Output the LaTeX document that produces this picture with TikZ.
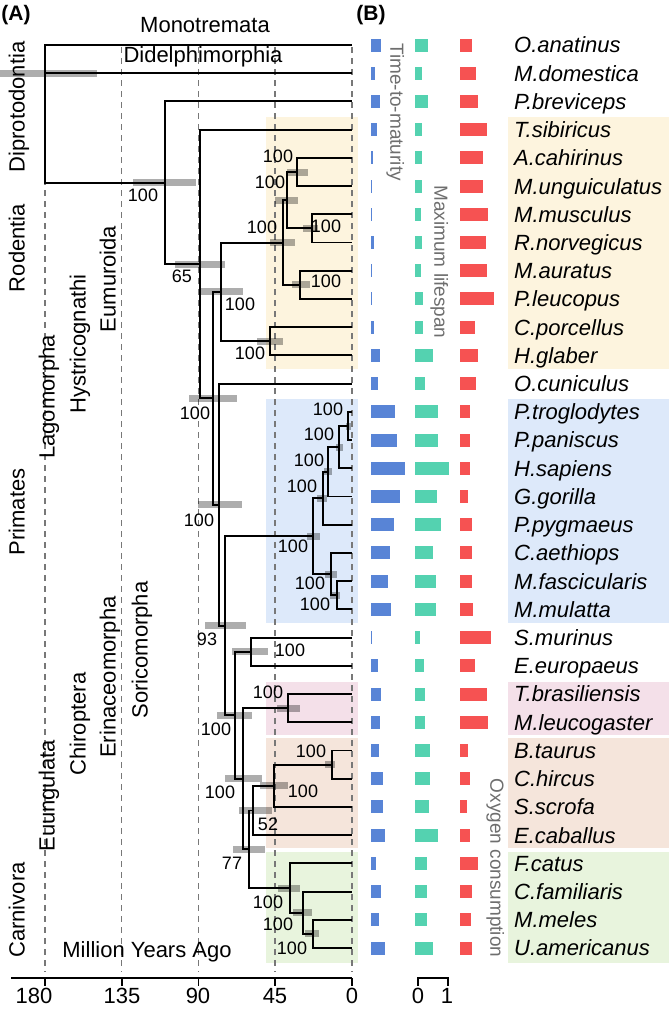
\documentclass[tikz,border=0pt]{standalone}
\usepackage{fontspec}
\setmainfont{Liberation Sans}
\definecolor{rodbg}{RGB}{253,244,222}
\definecolor{pribg}{RGB}{221,233,250}
\definecolor{batbg}{RGB}{244,224,233}
\definecolor{ungbg}{RGB}{245,229,219}
\definecolor{carbg}{RGB}{232,244,221}
\definecolor{cblue}{RGB}{88,132,214}
\definecolor{cteal}{RGB}{84,210,176}
\definecolor{cred}{RGB}{246,82,82}
\definecolor{gridc}{RGB}{120,120,120}
\definecolor{axtxt}{RGB}{110,110,110}
\begin{document}
\begin{tikzpicture}[x=1pt,y=-1pt,
  branch/.style={line width=1.9pt},
  gline/.style={gridc, line width=1.5pt, dash pattern=on 6pt off 5pt},
  ci/.style={fill=black, fill opacity=0.32},
  bs/.style={font=\fontsize{18}{20}\selectfont, inner sep=0pt, text height=0.72em, text depth=0pt},
  taxon/.style={font=\fontsize{22}{26}\selectfont\itshape, inner sep=0pt, anchor=base west},
  grp/.style={font=\fontsize{22}{26}\selectfont, inner sep=0pt, rotate=90, text height=0.72em, text depth=0.2em},
  lbl/.style={font=\fontsize{22}{26}\selectfont, inner sep=0pt, text height=0.72em, text depth=0.2em},
  trait/.style={font=\fontsize{19}{22}\selectfont, text=axtxt, inner sep=0pt, rotate=-90, text height=0.72em, text depth=0.2em},
  ttl/.style={font=\fontsize{21}{24}\selectfont\bfseries, inner sep=0pt},
]
\useasboundingbox (0,0) rectangle (669,1009);
\fill[white] (0,0) rectangle (669,1009);

% clade backgrounds
\fill[rodbg] (266,116.5) rectangle (358,369);
\fill[rodbg] (508,116.5) rectangle (669,369);
\fill[pribg] (266,399) rectangle (358,622.5);
\fill[pribg] (508,399) rectangle (669,622.5);
\fill[batbg] (266,681.5) rectangle (358,735);
\fill[batbg] (508,681.5) rectangle (669,735);
\fill[ungbg] (266,738) rectangle (358,847.5);
\fill[ungbg] (508,738) rectangle (669,847.5);
\fill[carbg] (266,851.5) rectangle (358,963);
\fill[carbg] (508,851.5) rectangle (669,963);

% dashed time lines
\foreach \x in {45,121.7,198.5,275.2,352}
  \draw[gline] (\x,47) -- (\x,972);

% tips
\foreach \i in {0,...,32}
  \coordinate (t\i) at (352,45+28.22*\i);

% internal nodes
\coordinate (root) at (45,73.2);
\coordinate (n1) at (165,182.7);
\coordinate (n65) at (200,264);
\coordinate (n2) at (213,398.3);
\coordinate (n3) at (221,291.9);
\coordinate (n5) at (283,242.55);
\coordinate (n7) at (287,200.2);
\coordinate (n9) at (297,172);
\coordinate (n10) at (312,228.4);
\coordinate (n8) at (300,284.9);
\coordinate (n6) at (270,341.3);
\coordinate (n4) at (219,504.65);
\coordinate (n93) at (225,625.7);
\coordinate (np) at (313,536.2);
\coordinate (nh1) at (323,498.25);
\coordinate (nh2) at (328,471.8);
\coordinate (nh3) at (339,447.15);
\coordinate (npan) at (348,426);
\coordinate (no) at (331,574.15);
\coordinate (nmac) at (337,595.3);
\coordinate (nl) at (235,715.2);
\coordinate (ne) at (251,651.7);
\coordinate (nb0) at (243,778.75);
\coordinate (nbat) at (288,708.2);
\coordinate (n77) at (249,849.3);
\coordinate (n52) at (253,810.5);
\coordinate (nbov) at (274,785.75);
\coordinate (nbc) at (332,764.6);
\coordinate (ncar) at (290,888.1);
\coordinate (ncar2) at (303,912.75);
\coordinate (ncar3) at (313,933.9);

% branches
\foreach \a/\b in {root/t0,root/t1,root/n1,n1/t2,n1/n65,n65/t3,n65/n2,
  n2/n3,n2/n4,n3/n5,n3/n6,n5/n7,n5/n8,n7/n9,n7/n10,n9/t4,n9/t5,n10/t6,n10/t7,
  n8/t8,n8/t9,n6/t10,n6/t11,n4/t12,n4/n93,n93/np,n93/nl,
  np/nh1,np/no,nh1/nh2,nh1/t17,nh2/nh3,nh2/t16,nh3/npan,nh3/t15,npan/t13,npan/t14,
  no/t18,no/nmac,nmac/t19,nmac/t20,
  nl/ne,nl/nb0,ne/t21,ne/t22,nb0/nbat,nb0/n77,nbat/t23,nbat/t24,
  n77/n52,n77/ncar,n52/nbov,n52/t28,nbov/nbc,nbov/t27,nbc/t25,nbc/t26,
  ncar/t29,ncar/ncar2,ncar2/t30,ncar2/ncar3,ncar3/t31,ncar3/t32}
  \draw[branch] (\a) |- (\b);

% confidence bars
\foreach \xa/\xb/\yy in {0/97/73.2,133/196/182.7,175/225/264,189/237/398.3,
  200/243/291.9,270/295/242.55,275/298/200.2,287/308/172,303/318/228.4,
  292/310/284.9,257/283/341.3,198/242/504.65,205/246/625.7,307/320/536.2,
  317/327/498.25,324/332/471.8,336/343/447.15,346/351/426,325/337/574.15,
  330/340/595.3,217/252/715.2,232/268/651.7,225/262/778.75,277/300/708.2,
  233/265/849.3,239/272/810.5,260/288/785.75,325/335/764.6,278/300/888.1,
  293/312/912.75,305/319/933.9}
  \fill[ci] (\xa,\yy-3.5) rectangle (\xb,\yy+3.5);

% support values
\node[bs] (b1) at (143,198) {100};
\node[bs] (b65) at (182,279) {65};
\node[bs] (b2) at (195,416) {100};
\node[bs] (b3) at (240,307) {100};
\node[bs] (b5) at (262,230) {100};
\node[bs] (b7) at (270,185) {100};
\node[bs] (b9) at (278,159) {100};
\node[bs] (b10) at (326,229) {100};
\node[bs] (b8) at (326,284) {100};
\node[bs] (b6) at (250,356) {100};
\node[bs] (b4) at (199,523) {100};
\node[bs] (b93) at (207,642) {93};
\node[bs] (bpan) at (328,412) {100};
\node[bs] (bh3) at (319,437) {100};
\node[bs] (bh2) at (309,463) {100};
\node[bs] (bh1) at (302,489) {100};
\node[bs] (bp) at (293,549) {100};
\node[bs] (bo) at (310,586) {100};
\node[bs] (bmac) at (315,607) {100};
\node[bs] (be) at (290,653) {100};
\node[bs] (bbat) at (268,695) {100};
\node[bs] (bl) at (216,732) {100};
\node[bs] (bbc) at (311,754) {100};
\node[bs] (bb0) at (220,795) {100};
\node[bs] (bbov) at (303,794) {100};
\node[bs] (b52) at (268,827) {52};
\node[bs] (b77) at (232,866) {77};
\node[bs] (bcar) at (268,905) {100};
\node[bs] (bcar2) at (278,927) {100};
\node[bs] (bcar3) at (292,951) {100};

% group labels
\node[lbl] (gmono) at (205,30) {Monotremata};
\node[lbl] (gdid) at (203,60) {Didelphimorphia};
\node[grp] (gdip) at (22,107) {Diprotodontia};
\node[grp] (grod) at (22,248) {Rodentia};
\node[grp] (gpri) at (22,512) {Primates};
\node[grp] (gcar) at (22,910) {Carnivora};
\node[grp] (glag) at (52,397) {Lagomorpha};
\node[grp] (ghys) at (83,344) {Hystricognathi};
\node[grp] (geum) at (113,279) {Eumuroida};
\node[grp] (geuu) at (52,796) {Euungulata};
\node[grp] (gchi) at (83,724) {Chiroptera};
\node[grp] (geri) at (113,677) {Erinaceomorpha};
\node[grp] (gsor) at (145,650) {Soricomorpha};
\node[lbl] (gmya) at (147,955) {Million Years Ago};

% panel titles
\node[ttl] (pA) at (16,15) {(A)};
\node[ttl] (pB) at (371,15) {(B)};

% time axis
\draw[line width=1.8pt] (11,978) -- (352,978);
\foreach \x in {45,121.7,198.5,275.2,352}
  \draw[line width=1.8pt] (\x,978) -- (\x,986);
\node[lbl] (a180) at (34,1001) {180};
\node[lbl] (a135) at (122,1001) {135};
\node[lbl] (a90) at (198,1001) {90};
\node[lbl] (a45) at (275,1001) {45};
\node[lbl] (a0) at (352,1001) {0};

% trait bars
\foreach \b/\t/\r [count=\i from 0] in {10/13/12,4/7/16,9/13/18,6/7/27,2/7/23,1/7/23,
  1/6/28,3/7/26,1/6/27,1/8/34,3/8/15,9/18/18,7/10/16,24/23/10,26/23/10,34/34/10,
  29/22/8,23/26/12,19/18/12,17/21/12,20/21/13,1/5/31,7/9/15,10/10/27,9/10/28,
  8/15/8,12/15/10,12/14/7,14/23/10,5/12/18,10/12/12,8/12/11,14/18/12} {
  \pgfmathsetmacro\yy{45+28.22*\i}
  \fill[cblue] (371,\yy-6.5) rectangle ++(\b,13);
  \fill[cteal] (415,\yy-6.5) rectangle ++(\t,13);
  \fill[cred] (460,\yy-6.5) rectangle ++(\r,13);
}

% trait titles
\node[trait] (ttm) at (393,112) {Time-to-maturity};
\node[trait] (tml) at (437,262) {Maximum lifespan};
\node[trait] (toc) at (493,868) {Oxygen consumption};

% scale bar
\draw[line width=1.8pt] (418,986) -- (418,978) -- (448,978) -- (448,986);
\node[lbl] (s0lab) at (418,1001) {0};
\node[lbl] (s1lab) at (447,1001) {1};

% taxon names
\foreach \nm [count=\i from 0] in {O.anatinus,M.domestica,P.breviceps,T.sibiricus,
  A.cahirinus,M.unguiculatus,M.musculus,R.norvegicus,M.auratus,P.leucopus,
  C.porcellus,H.glaber,O.cuniculus,P.troglodytes,P.paniscus,H.sapiens,G.gorilla,
  P.pygmaeus,C.aethiops,M.fascicularis,M.mulatta,S.murinus,E.europaeus,
  T.brasiliensis,M.leucogaster,B.taurus,C.hircus,S.scrofa,E.caballus,F.catus,
  C.familiaris,M.meles,U.americanus}
  \node[taxon] (s\i) at (514,45+28.22*\i+7.9) {\nm};
\end{tikzpicture}
\end{document}
